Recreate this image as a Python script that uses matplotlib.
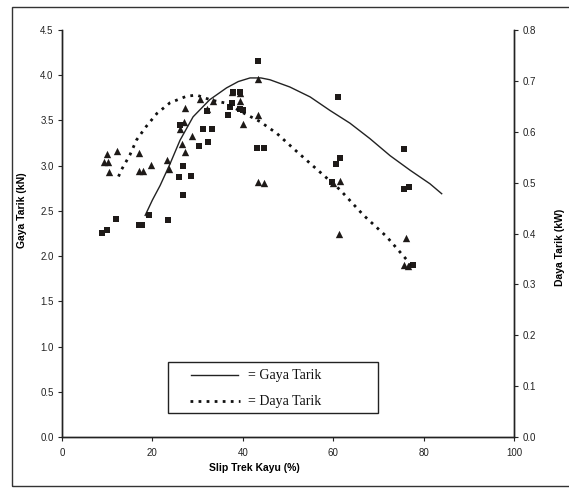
import matplotlib
matplotlib.use("Agg")
import matplotlib.pyplot as plt
from matplotlib.lines import Line2D
from matplotlib.patches import Rectangle

# Gaya Tarik observations (kN, left axis) - squares
sq_x = [43.4, 8.8, 9.9, 11.9, 17.1, 17.8, 19.3, 23.4, 25.8, 26.7, 28.5, 26.7, 26.2,
        30.2, 32.4, 31.3, 33.1, 32.0, 36.8, 37.2, 37.5, 39.4, 40.0, 37.9, 39.4,
        43.1, 44.7, 61.1, 61.5, 60.6, 75.7, 75.7, 76.8, 59.7, 77.7]
sq_y = [4.16, 2.26, 2.29, 2.41, 2.34, 2.34, 2.46, 2.40, 2.88, 3.00, 2.89, 2.68, 3.45,
        3.22, 3.26, 3.40, 3.41, 3.60, 3.56, 3.65, 3.69, 3.63, 3.61, 3.81, 3.81,
        3.20, 3.19, 3.76, 3.09, 3.02, 3.18, 2.74, 2.76, 2.82, 1.90]

# Daya Tarik observations (kW, right axis) - triangles
tr_x = [9.9, 9.4, 10.1, 10.4, 12.2, 17.1, 17.1, 18.0, 19.6, 23.2, 23.7, 26.5, 27.2,
        27.0, 26.0, 27.2, 28.8, 30.5, 32.0, 33.3, 37.5, 39.4, 39.4, 40.0, 43.4,
        43.4, 43.4, 44.8, 61.5, 60.0, 61.2, 76.0, 75.7, 76.6]
tr_y = [0.556, 0.541, 0.540, 0.520, 0.562, 0.559, 0.523, 0.523, 0.534, 0.544, 0.526,
        0.576, 0.560, 0.620, 0.605, 0.646, 0.592, 0.664, 0.644, 0.660, 0.678, 0.676,
        0.660, 0.615, 0.704, 0.632, 0.501, 0.499, 0.504, 0.499, 0.399, 0.391, 0.338,
        0.336]

# Fitted curves
fit_g_x = [18.4, 20.0, 21.7, 23.9, 26.1, 29.0, 32.7, 36.4, 39.0, 41.6, 44.0, 46.0,
           50.4, 54.9, 59.3, 63.7, 68.1, 72.6, 77.0, 81.4, 84.0]
fit_g_y = [2.45, 2.62, 2.78, 3.02, 3.28, 3.54, 3.73, 3.86, 3.93, 3.97, 3.97, 3.95,
           3.87, 3.76, 3.61, 3.47, 3.30, 3.11, 2.95, 2.80, 2.69]
fit_d_x = [12.5, 13.2, 15.0, 16.5, 18.6, 21.0, 23.9, 27.6, 29.8, 33.1, 36.4, 39.7,
           43.8, 47.5, 51.2, 55.0, 61.5, 66.7, 71.8, 76.3, 77.4]
fit_d_y = [0.512, 0.526, 0.554, 0.584, 0.610, 0.636, 0.657, 0.670, 0.672, 0.662,
           0.656, 0.639, 0.620, 0.597, 0.567, 0.537, 0.486, 0.436, 0.394, 0.348, 0.332]

legend_labels = ['= Gaya Tarik', '= Daya Tarik']
x_ticks = [0, 20, 40, 60, 80, 100]
left_ticks = [0.0, 0.5, 1.0, 1.5, 2.0, 2.5, 3.0, 3.5, 4.0, 4.5]
right_ticks = [0.0, 0.1, 0.2, 0.3, 0.4, 0.5, 0.6, 0.7, 0.8]

plt.rcParams['font.family'] = ['Liberation Sans', 'DejaVu Sans']

W, H = 569, 493
fig = plt.figure(figsize=(W / 100, H / 100), dpi=100)
fig.patch.set_facecolor('white')


def fx(px):
    return px / W


def fy(py):
    return 1 - py / H


# outer chart border
fig.patches.append(Rectangle((fx(12), fy(486)), 1.2, (486 - 7) / H,
                             transform=fig.transFigure, fill=False,
                             edgecolor='#333333', linewidth=1.0))

ax = fig.add_axes([fx(62), fy(437), (514 - 62) / W, (437 - 30) / H])
ax2 = ax.twinx()

mk = '#1e1a18'
dot_style = (0, (1, 1.9))
ax.plot(fit_g_x, fit_g_y, color='#222222', linewidth=1.0, zorder=3)
ax.scatter(sq_x, sq_y, marker='s', s=16, color=mk, zorder=4, linewidths=0)
ax2.plot(fit_d_x, fit_d_y, color='#111111', linewidth=2.0,
         linestyle=dot_style, zorder=3)
ax2.scatter(tr_x, tr_y, marker='^', s=28, color=mk, zorder=4, linewidths=0)

ax.set_xlim(0, 100)
ax.set_ylim(0, 4.5)
ax2.set_ylim(0, 0.8)
ax.set_xticks(x_ticks)
ax.set_xticklabels([str(v) for v in x_ticks])
ax.set_yticks(left_ticks)
ax.set_yticklabels([f"{v:.1f}" for v in left_ticks])
ax2.set_yticks(right_ticks)
ax2.set_yticklabels([f"{v:.1f}" for v in right_ticks])

for a in (ax, ax2):
    a.spines['top'].set_visible(False)
    for s in a.spines.values():
        s.set_linewidth(1.0)
        s.set_color('#222222')
ax.tick_params(axis='both', labelsize=7, length=3, width=0.8, direction='out',
               colors='#222222', pad=3)
ax2.tick_params(axis='y', labelsize=7, length=3, width=0.8, direction='out',
                colors='#222222', pad=3)
ax.tick_params(axis='x', pad=5)

ax.set_xlabel('Slip Trek Kayu (%)', fontsize=7.5, fontweight='bold')
ax.xaxis.set_label_coords((254 - 62) / (514 - 62), -(463 - 437) / (437 - 30))
ax.set_ylabel('Gaya Tarik (kN)', fontsize=7.5, fontweight='bold')
ax.yaxis.set_label_coords(-(62 - 27) / (514 - 62), (437 - 210) / (437 - 30))
ax2.set_ylabel('Daya Tarik (kW)', fontsize=7.5, fontweight='bold')
ax2.yaxis.set_label_coords(1 + (555 - 514) / (514 - 62), (437 - 247) / (437 - 30))

# legend box drawn manually to match the layout
fig.patches.append(Rectangle((fx(168), fy(413)), (378 - 168) / W, (413 - 362) / H,
                             transform=fig.transFigure, facecolor='white',
                             edgecolor='#222222', linewidth=1.0, zorder=5))
fig.add_artist(Line2D([fx(191), fx(238)], [fy(375), fy(375)], transform=fig.transFigure,
                      color='#222222', linewidth=1.0, zorder=6))
fig.add_artist(Line2D([fx(190), fx(240)], [fy(401), fy(401)], transform=fig.transFigure,
                      color='#111111', linewidth=2.0, linestyle=dot_style, zorder=6))
for lab, yy in zip(legend_labels, [375, 401]):
    fig.text(fx(248), fy(yy), lab, ha='left', va='center',
             family=['Liberation Serif'], fontsize=10, color='#111111', zorder=6)

fig.savefig('out.png', dpi=100, facecolor='white')
